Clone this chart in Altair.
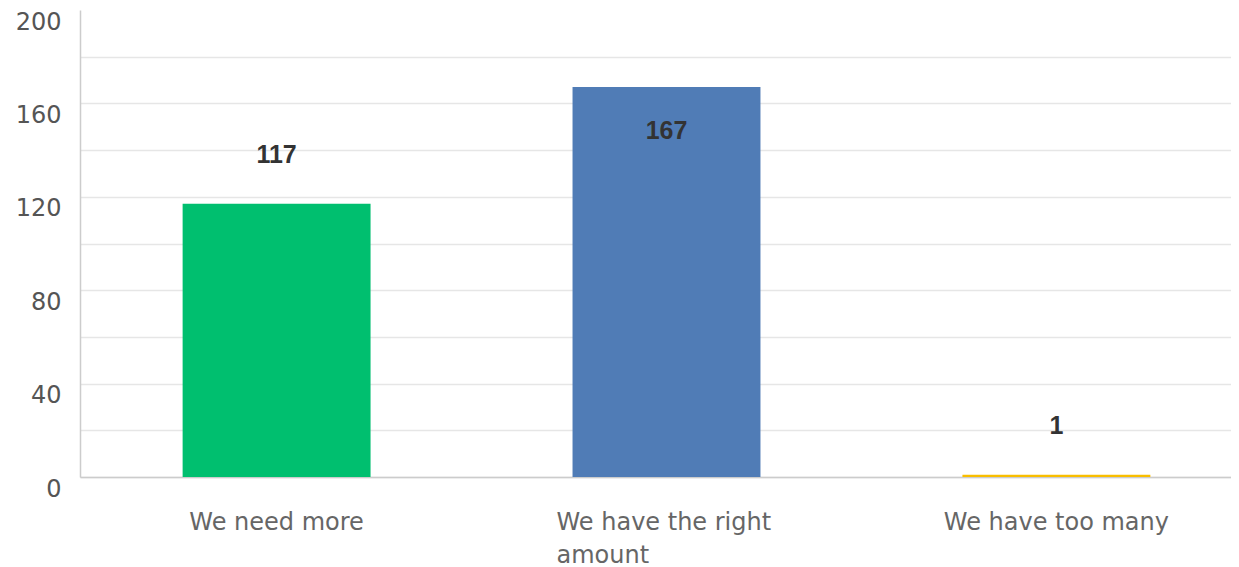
import altair as alt
import pandas as pd

categories = ["We need more", "We have the right amount", "We have too many"]
counts = [117, 167, 1]
colors = ["#00BF6F", "#507CB6", "#F9BE00"]
y_ticks = [0, 20, 40, 60, 80, 100, 120, 140, 160, 180, 200]

df = pd.DataFrame({"category": categories, "count": counts})

wrapped = "datum.value == 'We have the right amount'"
label_expr = wrapped + " ? ['We have the right', 'amount'] : datum.value"

x_enc = alt.X(
    "category:N",
    sort=categories,
    scale=alt.Scale(paddingInner=0.518, paddingOuter=0.235, align=0.56),
    axis=alt.Axis(
        title=None,
        labelAngle=0,
        ticks=False,
        domainColor="#cccccc",
        domainWidth=1.5,
        labelFont="DejaVu Sans",
        labelFontSize=24,
        labelColor="#666666",
        labelPadding=33,
        labelBaseline="top",
        labelLineHeight=33,
        labelLimit=0,
        labelExpr=label_expr,
        labelAlign={"condition": {"test": wrapped, "value": "left"}, "value": "center"},
        labelOffset={"condition": {"test": wrapped, "value": -110}, "value": 0},
        grid=False,
    ),
)

bars = alt.Chart(df).mark_bar().encode(
    x=x_enc,
    y=alt.Y(
        "count:Q",
        scale=alt.Scale(domain=[0, 200], nice=False),
        axis=alt.Axis(
            title=None,
            values=y_ticks,
            labelExpr="datum.value % 40 == 0 ? datum.label : ''",
            ticks=False,
            domainColor="#cccccc",
            domainWidth=1.5,
            labelFont="DejaVu Sans",
            labelFontSize=24,
            labelColor="#555555",
            labelPadding=19,
            labelOffset=12,
            labelOverlap=False,
            labelFlush=False,
            gridColor="#e6e6e6",
            gridWidth=1.5,
            gridOpacity={"condition": {"test": "datum.value === 200", "value": 0}, "value": 1},
            minExtent=72,
        ),
    ),
    color=alt.Color(
        "category:N",
        scale=alt.Scale(domain=categories, range=colors),
        legend=None,
    ),
)

text = (
    alt.Chart(df)
    .transform_calculate(label_y="datum.count > 150 ? datum.count - 19 : datum.count + 21")
    .mark_text(font="Liberation Sans", fontWeight="bold", fontSize=25, color="#333333", baseline="middle")
    .encode(
        x=alt.X("category:N", sort=categories),
        y=alt.Y("label_y:Q"),
        text="count:Q",
    )
)

chart = (
    alt.layer(bars, text)
    .properties(width=1151, height=467, padding={"left": 0, "top": 2, "right": 0, "bottom": 0})
    .configure_view(strokeWidth=0)
)

chart.save("out.html", embed_options={"renderer": "svg", "actions": False})
